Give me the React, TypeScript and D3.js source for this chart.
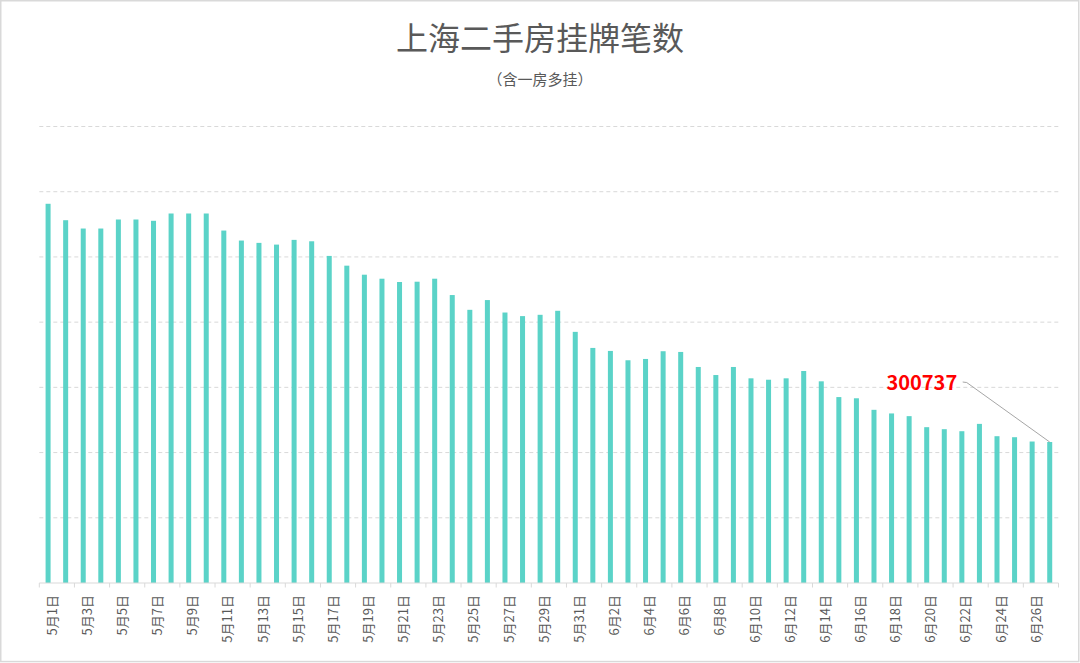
import { useEffect, useRef } from "react";
import * as d3 from "d3";

// categories: May 1 – May 31, June 1 – June 27
const mayDays = d3.range(1, 32).map((d) => `5月${d}日`);
const juneDays = d3.range(1, 28).map((d) => `6月${d}日`);
const dates = [...mayDays, ...juneDays];

// listings count
const listings = [
  373800, 368760, 366210, 366210, 368980, 368980, 368580, 370820, 370820, 370820,
  365590, 362520, 361810, 361280, 362730, 362300, 357810, 354820, 352050, 350820,
  349810, 349900, 350820, 345810, 341280, 344270, 340450, 339350, 339750, 340980,
  334520, 329590, 328670, 325810, 326210, 328580, 328360, 323750, 321280, 323750,
  320270, 319840, 320270, 322520, 319350, 314520, 314150, 310610, 309500, 308670,
  305290, 304670, 304050, 306300, 302520, 302210, 300890, 300737,
];

// hidden value axis
const yMin = 257500;
const yStep = 20000;
const yMax = yMin + yStep * 7;

const title = "上海二手房挂牌笔数";
const subtitle = "（含一房多挂）";

const W = 1080;
const H = 663;
const FONT = "'Noto Sans CJK SC', 'Noto Sans', sans-serif";

export default function App() {
  const svgRef = useRef<SVGSVGElement>(null);

  useEffect(() => {
    const svg = d3.select(svgRef.current);
    svg.selectAll("*").remove();

    const margin = { left: 39.3, right: W - 1058.5, top: 126.5, bottom: H - 583 };
    const innerH = H - margin.top - margin.bottom;

    const x = d3
      .scaleBand<string>()
      .domain(dates)
      .range([margin.left, W - margin.right])
      .paddingInner(0.715)
      .paddingOuter(0.3575);

    const y = d3
      .scaleLinear()
      .domain([yMin, yMax])
      .range([margin.top + innerH, margin.top]);

    // frame
    svg
      .append("rect")
      .attr("x", 0.75)
      .attr("y", 0.75)
      .attr("width", W - 2)
      .attr("height", H - 2.2)
      .attr("fill", "#fff")
      .attr("stroke", "#d9d9d9")
      .attr("stroke-width", 1.5);

    // title
    svg
      .append("text")
      .attr("x", W / 2)
      .attr("y", 50)
      .attr("text-anchor", "middle")
      .attr("fill", "#595959")
      .attr("font-family", FONT)
      .attr("font-size", 32)
      .text(title);

    svg
      .append("text")
      .attr("x", W / 2)
      .attr("y", 84.5)
      .attr("text-anchor", "middle")
      .attr("fill", "#595959")
      .attr("font-family", FONT)
      .attr("font-size", 15)
      .text(subtitle);

    // gridlines
    const gridVals = d3.range(yMin + yStep, yMax + 1, yStep);
    svg
      .append("g")
      .selectAll("line")
      .data(gridVals)
      .join("line")
      .attr("x1", margin.left)
      .attr("x2", W - margin.right)
      .attr("y1", (d) => y(d))
      .attr("y2", (d) => y(d))
      .attr("stroke", "#d9d9d9")
      .attr("stroke-width", 1)
      .attr("stroke-dasharray", "4,3");

    // bars
    svg
      .append("g")
      .selectAll("rect")
      .data(listings)
      .join("rect")
      .attr("x", (_, i) => x(dates[i])!)
      .attr("y", (d) => y(d))
      .attr("width", x.bandwidth())
      .attr("height", (d) => y(yMin) - y(d))
      .attr("fill", "#5bd3c8");

    // category axis
    const base = y(yMin);
    const step = x.step();
    const axis = svg.append("g");
    axis
      .append("line")
      .attr("x1", margin.left)
      .attr("x2", W - margin.right)
      .attr("y1", base)
      .attr("y2", base)
      .attr("stroke", "#d9d9d9")
      .attr("stroke-width", 1);

    const tickIdx = d3.range(0, dates.length + 1, 2);
    axis
      .selectAll("line.tick")
      .data(tickIdx)
      .join("line")
      .attr("class", "tick")
      .attr("x1", (i) => margin.left + i * step)
      .attr("x2", (i) => margin.left + i * step)
      .attr("y1", base)
      .attr("y2", base + 4.5)
      .attr("stroke", "#d9d9d9")
      .attr("stroke-width", 1);

    const labelled = dates.filter((_, i) => i % 2 === 0);
    axis
      .selectAll("text")
      .data(labelled)
      .join("text")
      .attr(
        "transform",
        (d) => `translate(${x(d)! + x.bandwidth() / 2 + 4},${base + 12}) rotate(-90)`
      )
      .attr("text-anchor", "end")
      .attr("dy", "0.35em")
      .attr("fill", "#595959")
      .attr("font-family", FONT)
      .attr("font-size", 13)
      .text((d) => d);

    // annotation on last bar
    const lastI = listings.length - 1;
    const px = x(dates[lastI])! + x.bandwidth() / 2;
    const py = y(listings[lastI]);
    svg
      .append("polyline")
      .attr(
        "points",
        `${px - 87},${py - 60} ${px - 83},${py - 59.5} ${px},${py}`
      )
      .attr("fill", "none")
      .attr("stroke", "#a6a6a6")
      .attr("stroke-width", 1);

    svg
      .append("text")
      .attr("x", px - 92.5)
      .attr("y", py - 52.5)
      .attr("text-anchor", "end")
      .attr("fill", "#ff0000")
      .attr("font-family", FONT)
      .attr("font-weight", 700)
      .attr("font-size", 20)
      .text(String(listings[lastI]));
  }, []);

  return (
    <svg
      ref={svgRef}
      width={W}
      height={H}
      style={{ position: "absolute", left: 0, top: 0, display: "block", background: "#fff" }}
    />
  );
}
